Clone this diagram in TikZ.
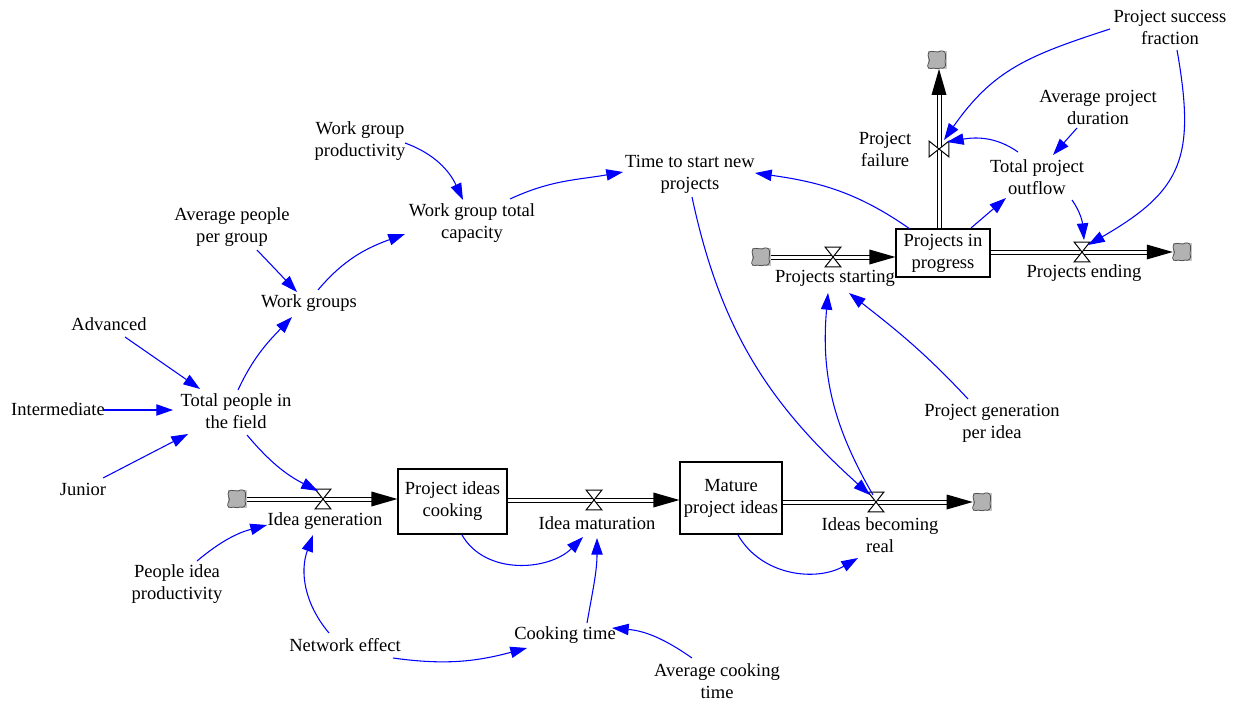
\documentclass[tikz,border=0pt]{standalone}
\usepackage{fontspec}
\setmainfont{Liberation Serif}
\usetikzlibrary{arrows.meta,calc}
\begin{document}
\begin{tikzpicture}[x=0.75pt,y=0.75pt,
  var/.style={align=center, inner sep=0pt, font=\fontsize{13.9}{16.5}\selectfont},
  stock/.style={draw, line width=0.85pt, fill=white, align=center, inner sep=0pt, font=\fontsize{13.9}{16.5}\selectfont},
  valvebox/.style={minimum width=11.25pt, minimum height=14.25pt, inner sep=0pt},
  cloudn/.style={minimum width=13.5pt, minimum height=13pt, inner sep=0pt},
  cloudpath/.style={fill=gray!60, draw=black!70, line width=0.55pt},
  pipe/.style={draw=black, line width=0.75pt, double=white, double distance=2.25pt},
  conn/.style={draw=blue, line width=0.8pt, -{Triangle[length=12.5pt,width=8.5pt]}, fill=none},
  valve/.style={fill=white, draw=black, line width=0.75pt}]
\useasboundingbox (0,0) rectangle (1237,-702);

% stocks
\node[stock, minimum width=81.75pt, minimum height=48.75pt] (stA) at (452.5,-501.5) {Project ideas\\cooking};
\node[stock, minimum width=76.5pt, minimum height=54pt] (stB) at (731,-498) {Mature\\project ideas};
\node[stock, minimum width=70.5pt, minimum height=36pt] (stC) at (943,-253) {Projects in\\progress};

% clouds
\node[cloudn] (c1) at (237,-499) {};
\node[cloudn] (c2) at (982,-502) {};
\node[cloudn] (c3) at (761,-257) {};
\node[cloudn] (c4) at (1182,-252) {};
\node[cloudn] (c5) at (937,-60) {};
\foreach \c in {c1,c2,c3,c4,c5}{
  \begin{scope}[shift={(\c)}]
    \fill[gray!45] (-9.5,-9) rectangle (9.5,9);
    \draw[cloudpath] (-8,8) .. controls (-4,10) and (-2,7) .. (1,8)
      .. controls (4,10) and (8,9.5) .. (8.5,6)
      .. controls (10,3) and (7,1) .. (8,-2)
      .. controls (10,-6) and (7,-9.5) .. (3,-8)
      .. controls (0,-10) and (-3,-7) .. (-6,-8.5)
      .. controls (-10,-9) and (-10,-5) .. (-8,-2)
      .. controls (-6,0) and (-11,4) .. (-8,8) -- cycle;
  \end{scope}
}

% valves
\node[valvebox] (vig) at (323,-499) {};
\node[valvebox] (vim) at (594,-500) {};
\node[valvebox] (vibr) at (876,-502) {};
\node[valvebox] (vps) at (833,-257) {};
\node[valvebox] (vpe) at (1082,-252) {};
\node[valvebox, rotate=90] (vpf) at (939,-149) {};

% pipes
\draw[pipe] ($(c1.east |- vig)+(1,0)$) -- ($(stA.west |- vig)+(-18,0)$);
\fill (stA.west |- vig) -- ++(-26,7.5) -- ++(0,-15) -- cycle;
\draw[pipe] (stA.east |- vim) -- ($(stB.west |- vim)+(-18,0)$);
\fill (stB.west |- vim) -- ++(-26,7.5) -- ++(0,-15) -- cycle;
\draw[pipe] (stB.east |- vibr) -- ($(c2.west |- vibr)+(-18,0)$);
\fill (c2.west |- vibr) -- ++(-26,7.5) -- ++(0,-15) -- cycle;
\draw[pipe] ($(c3.east |- vps)+(1,0)$) -- ($(stC.west |- vps)+(-18,0)$);
\fill (stC.west |- vps) -- ++(-26,7.5) -- ++(0,-15) -- cycle;
\draw[pipe] (stC.east |- vpe) -- ($(c4.west |- vpe)+(-18,0)$);
\fill (c4.west |- vpe) -- ++(-26,7.5) -- ++(0,-15) -- cycle;
\draw[pipe] (vpf |- stC.north) -- ($(vpf |- c5.south)+(0,-18)$);
\fill (vpf |- c5.south) -- ++(-7.5,-26) -- ++(15,0) -- cycle;

% valve glyphs
\foreach \v in {vig,vim,vibr,vps,vpe,vpf}{
  \draw[valve] (\v.north west) -- (\v.north east) -- (\v.south west) -- (\v.south east) -- cycle;
}

% flow labels
\node[var] (igl) at (325,-521) {Idea generation};
\node[var] (iml) at (597,-523) {Idea maturation};
\node[var] (ibrl) at (880,-535) {Ideas becoming\\real};
\node[var] (psl) at (835,-278) {Projects starting};
\node[var] (pel) at (1084,-273) {Projects ending};
\node[var] (pfl) at (885,-149) {Project\\failure};

% auxiliaries
\node[var] (psf) at (1170,-27) {Project success\\fraction};
\node[var] (apd) at (1098,-107) {Average project\\duration};
\node[var] (tpo) at (1037,-177) {Total project\\outflow};
\node[var] (ttsnp) at (690,-174) {Time to start new\\projects};
\node[var] (wgp) at (360,-141) {Work group\\productivity};
\node[var] (wgtc) at (472,-223) {Work group total\\capacity};
\node[var] (app) at (232,-227) {Average people\\per group};
\node[var] (wg) at (309,-303) {Work groups};
\node[var] (adv) at (109,-324) {Advanced};
\node[var] (int) at (58,-409) {Intermediate};
\node[var] (tp) at (236,-411) {Total people in\\the field};
\node[var] (jun) at (83,-489) {Junior};
\node[var] (pip) at (177,-584) {People idea\\productivity};
\node[var] (ne) at (345,-645) {Network effect};
\node[var] (ct) at (565,-635) {Cooking time};
\node[var] (act) at (717,-681) {Average cooking\\time};
\node[var] (pgpi) at (992,-423) {Project generation\\per idea};

% connectors
\draw[conn] ($(adv)+(16,-13)$) -- ($(tp)+(-36,22)$);
\draw[conn] ($(int)+(45,-1)$) -- ($(tp)+(-63,1)$);
\draw[conn] ($(jun)+(20,11)$) -- ($(tp)+(-48,-23)$);
\draw[conn] ($(tp)+(2,21)$) to[out=65,in=-134] ($(wg)+(-17,-14)$);
\draw[conn] ($(tp)+(11,-24)$) to[out=-50,in=153] ($(vig)+(-5,8)$);
\draw[conn] ($(app)+(25,-23)$) -- ($(wg)+(-12,11)$);
\draw[conn] ($(wg)+(9,13)$) to[out=50,in=-160] ($(wgtc)+(-67,-11)$);
\draw[conn] ($(wgp)+(45,-2)$) to[out=-20,in=115] ($(wgtc)+(-9,23)$);
\draw[conn] ($(wgtc)+(38,24)$) to[out=25,in=-170] ($(ttsnp)+(-67,2)$);
\draw[conn] ($(stC)+(-33,24)$) to[out=145,in=-8] ($(ttsnp)+(65,1)$);
\draw[conn] ($(ttsnp)+(2,-23)$) to[out=-78,in=138] ($(vibr)+(-6,7)$);
\draw[conn] ($(vibr)+(-3,7)$) to[out=120,in=-95] ($(psl)+(-7,-15)$);
\draw[conn] ($(pgpi)+(-24,24)$) to[out=133,in=-38] ($(psl)+(14,-15)$);
\draw[conn] ($(stC)+(28,25)$) -- ($(tpo)+(-31,-21)$);
\draw[conn] ($(tpo)+(-19,25)$) to[out=145,in=10] ($(vpf)+(8,7)$);
\draw[conn] ($(apd)+(-21,-21)$) -- ($(tpo)+(16,22)$);
\draw[conn] ($(tpo)+(35,-23)$) to[out=-55,in=95] ($(vpe)+(2,12)$);
\draw[conn] ($(psf)+(-60,-2)$) to[out=-162,in=55,looseness=1.1] ($(vpf)+(5,9)$);
\draw[conn] ($(psf)+(7,-23)$) to[out=-80,in=30,looseness=1.3] ($(vpe)+(6,7)$);
\draw[conn] ($(stA)+(9.5,-33.5)$) to[out=-60,in=-135] ($(iml)+(-14,-14)$);
\draw[conn] ($(ct)+(22,12)$) to[out=80,in=-90] ($(iml)+(0,-15)$);
\draw[conn] ($(stB)+(7,-37)$) to[out=-60,in=-150] ($(ibrl)+(-22,-23)$);
\draw[conn] ($(pip)+(20,23)$) to[out=40,in=-165] ($(igl)+(-58,-4)$);
\draw[conn] ($(ne)+(-16,12)$) to[out=130,in=-110] ($(igl)+(-12,-14)$);
\draw[conn] ($(ne)+(48,-13)$) to[out=-8,in=-165] ($(ct)+(-38,-13)$);
\draw[conn] ($(act)+(-25,23)$) to[out=145,in=-5] ($(ct)+(47,7)$);
\end{tikzpicture}
\end{document}
